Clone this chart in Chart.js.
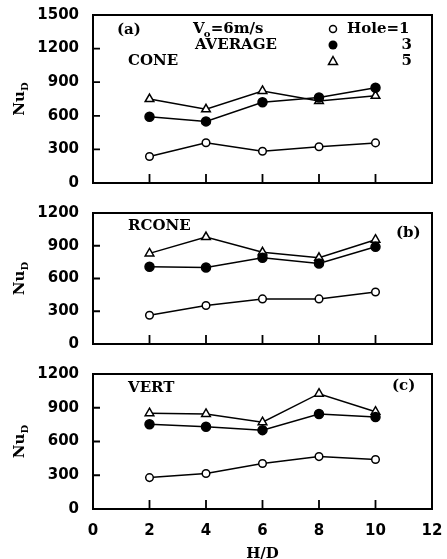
<!DOCTYPE html>
<html>
<head>
<meta charset="utf-8">
<script src="https://cdn.jsdelivr.net/npm/chart.js@4"></script>
<style>
  body { margin: 0; background: #fff; }
  #wrap { position: relative; width: 447px; height: 559px; }
  #wrap canvas { position: absolute; left: 0; top: 0; }
</style>
</head>
<body>
<div id="wrap">
  <canvas id="chartA" width="447" height="559"></canvas>
  <canvas id="chartB" width="447" height="559"></canvas>
  <canvas id="chartC" width="447" height="559"></canvas>
</div>
<script>
// datos
var hd = [2, 4, 6, 8, 10];
var holes = [1, 3, 5];
var xTicks = [0, 2, 4, 6, 8, 10, 12];

var coneHole1 = [236, 360, 283, 323, 358];
var coneHole3 = [591, 550, 721, 764, 850];
var coneHole5 = [750, 658, 822, 732, 779];

var rconeHole1 = [264, 352, 413, 413, 477];
var rconeHole3 = [708, 700, 790, 738, 890];
var rconeHole5 = [830, 980, 840, 790, 955];

var vertHole1 = [279, 315, 404, 466, 440];
var vertHole3 = [754, 731, 701, 844, 817];
var vertHole5 = [852, 845, 772, 1025, 865];

var tickFont = { family: 'DejaVu Sans', weight: 'bold', size: 15 };
var serif = 'bold 15px "DejaVu Serif"';

// estilos de cada serie (Hole = 1, 3, 5)
function makeDatasets(s1, s3, s5) {
    var styles = [
        { pointStyle: 'circle', pointRadius: 3.8, pointBackgroundColor: '#fff' },
        { pointStyle: 'circle', pointRadius: 4.5, pointBackgroundColor: '#000' },
        { pointStyle: 'triangle', pointRadius: 5, pointBackgroundColor: '#fff' }
    ];
    return [s1, s3, s5].map(function (vals, i) {
        return Object.assign({
            label: 'Hole=' + holes[i],
            data: hd.map(function (h, j) { return { x: h, y: vals[j] }; }),
            borderColor: '#000',
            borderWidth: 1.5,
            pointBorderColor: '#000',
            pointBorderWidth: 1.5,
            tension: 0
        }, styles[i]);
    });
}

// marco, marcas interiores, etiqueta Nu_D y textos
function framePlugin(texts) {
    return {
        id: 'frame',
        afterDraw: function (chart) {
            var ctx = chart.ctx, a = chart.chartArea;
            var xs = chart.scales.x, ys = chart.scales.y;
            ctx.save();
            ctx.strokeStyle = '#000';
            ctx.lineWidth = 2;
            ctx.strokeRect(a.left, a.top, a.right - a.left, a.bottom - a.top);
            ctx.lineWidth = 1.8;
            ctx.beginPath();
            ys.ticks.forEach(function (t) {
                var py = ys.getPixelForValue(t.value);
                ctx.moveTo(a.left, py); ctx.lineTo(a.left + 7, py);
            });
            xs.ticks.forEach(function (t) {
                var px = xs.getPixelForValue(t.value);
                ctx.moveTo(px, a.bottom); ctx.lineTo(px, a.bottom - 9);
            });
            ctx.stroke();

            // Nu_D
            ctx.fillStyle = '#000';
            ctx.translate(20, (a.top + a.bottom) / 2);
            ctx.rotate(-Math.PI / 2);
            ctx.font = serif;
            var wNu = ctx.measureText('Nu').width;
            ctx.font = 'bold 10px "DejaVu Serif"';
            var wD = ctx.measureText('D').width;
            var x0 = -(wNu + wD) / 2;
            ctx.textBaseline = 'middle';
            ctx.font = serif;
            ctx.fillText('Nu', x0, 0);
            ctx.font = 'bold 10px "DejaVu Serif"';
            ctx.fillText('D', x0 + wNu, 5);
            ctx.restore();

            ctx.save();
            ctx.fillStyle = '#000';
            ctx.textBaseline = 'middle';
            texts.forEach(function (t) {
                ctx.font = t.font || serif;
                ctx.textAlign = t.align || 'left';
                ctx.fillText(t.text, t.x, t.y);
            });
            ctx.restore();
        }
    };
}

// leyenda del panel (a)
var legendPlugin = {
    id: 'holeLegend',
    afterDraw: function (chart) {
        var ctx = chart.ctx;
        var ys = [29, 45, 61];
        ctx.save();
        ctx.strokeStyle = '#000';
        ctx.fillStyle = '#000';
        ctx.lineWidth = 1.5;
        // Hole = 1
        ctx.beginPath(); ctx.arc(333, ys[0], 3.5, 0, Math.PI * 2); ctx.stroke();
        // Hole = 3
        ctx.beginPath(); ctx.arc(333, ys[1], 4.5, 0, Math.PI * 2); ctx.fill();
        // Hole = 5
        var r = 4.5;
        ctx.beginPath();
        ctx.moveTo(333, ys[2] - r);
        ctx.lineTo(333 + r, ys[2] + r * 0.8);
        ctx.lineTo(333 - r, ys[2] + r * 0.8);
        ctx.closePath(); ctx.stroke();

        ctx.font = serif;
        ctx.textBaseline = 'middle';
        ctx.textAlign = 'left';
        ctx.fillText('Hole=' + holes[0], 347, ys[0]);
        ctx.textAlign = 'right';
        ctx.fillText(String(holes[1]), 412, ys[1]);
        ctx.fillText(String(holes[2]), 412, ys[2]);

        // V_o = 6 m/s
        ctx.textAlign = 'left';
        ctx.fillText('V', 193, 29);
        var wV = ctx.measureText('V').width;
        ctx.font = 'bold 10px "DejaVu Serif"';
        ctx.fillText('o', 193 + wV - 1, 34);
        ctx.font = serif;
        ctx.fillText('=6m/s', 193 + wV + 6, 29);
        ctx.restore();
    }
};

function makeChart(id, s1, s3, s5, yMax, top, bottom, showX, texts, extra) {
    var plugins = [framePlugin(texts)];
    if (extra) plugins.push(extra);
    return new Chart(document.getElementById(id), {
        type: 'line',
        data: { datasets: makeDatasets(s1, s3, s5) },
        options: {
            responsive: false,
            animation: false,
            layout: { padding: { top: top, right: 15, bottom: 0, left: 0 } },
            plugins: { legend: { display: false }, tooltip: { enabled: false } },
            scales: {
                x: {
                    type: 'linear',
                    min: 0, max: 12,
                    afterBuildTicks: function (s) { s.ticks = xTicks.map(function (v) { return { value: v }; }); },
                    afterFit: function (s) {
                        s.height = 559 - bottom;
                        s.paddingLeft = 0;
                        s.paddingRight = 0;
                    },
                    grid: { display: false },
                    border: { display: false },
                    ticks: {
                        display: showX, color: '#000', font: tickFont, padding: 5, maxRotation: 0,
                        callback: function (v) { return String(v); }
                    },
                    title: {
                        display: showX, text: 'H/D', color: '#000',
                        font: { family: 'DejaVu Serif', weight: 'bold', size: 15, lineHeight: 1 },
                        padding: { top: 0, bottom: -3 }
                    }
                },
                y: {
                    min: 0, max: yMax,
                    ticks: {
                        stepSize: 300, color: '#000', font: tickFont, padding: 6,
                        callback: function (v) { return String(v); }
                    },
                    afterFit: function (s) { s.width = 93; },
                    grid: { display: false },
                    border: { display: false }
                }
            }
        },
        plugins: plugins
    });
}

makeChart('chartA', coneHole1, coneHole3, coneHole5, 1500, 11, 183, false, [
    { text: '(a)', x: 117, y: 30 },
    { text: 'CONE', x: 128, y: 61 },
    { text: 'AVERAGE', x: 236, y: 45, align: 'center' }
], legendPlugin);

makeChart('chartB', rconeHole1, rconeHole3, rconeHole5, 1200, 213, 344, false, [
    { text: 'RCONE', x: 128, y: 226 },
    { text: '(b)', x: 396, y: 233 }
]);

makeChart('chartC', vertHole1, vertHole3, vertHole5, 1200, 374, 509, true, [
    { text: 'VERT', x: 128, y: 388 },
    { text: '(c)', x: 392, y: 386 }
]);
</script>
</body>
</html>
